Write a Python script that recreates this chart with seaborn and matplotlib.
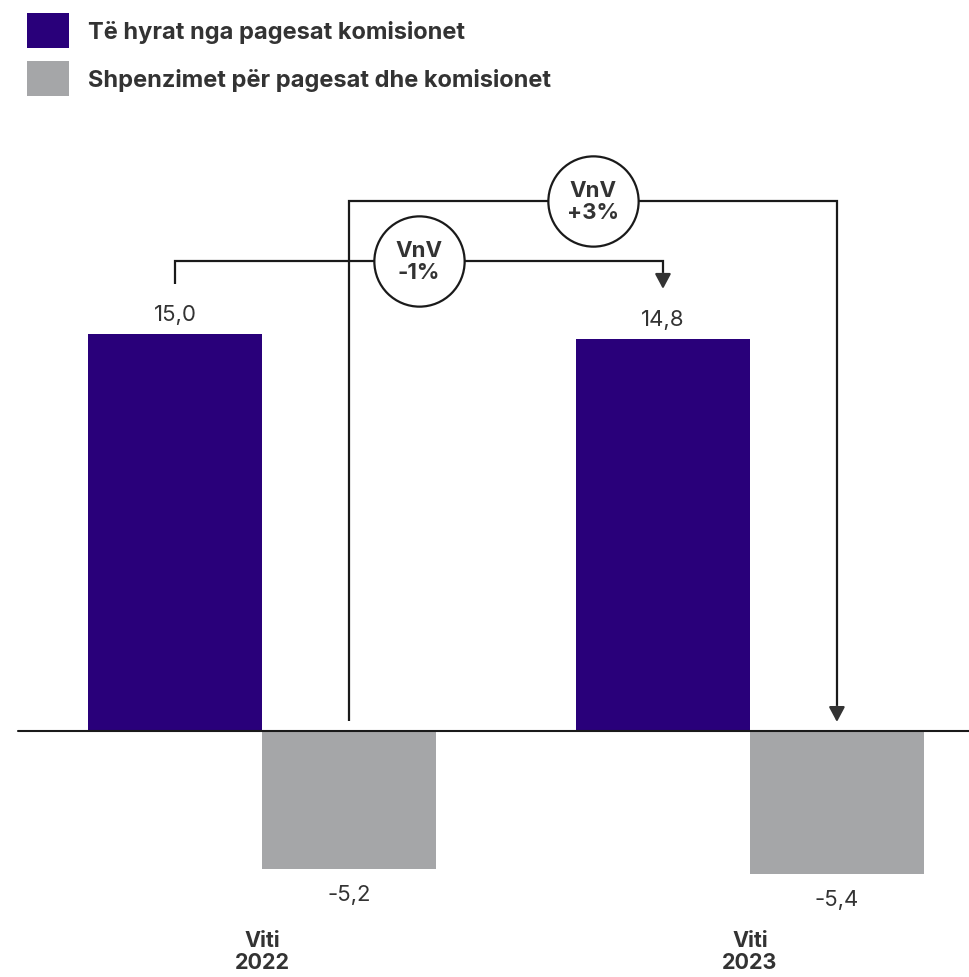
import matplotlib
matplotlib.use("Agg")
import matplotlib.pyplot as plt
import seaborn as sns
import pandas as pd

# Data (billion lek)
years = ["Viti\n2022", "Viti\n2023"]
series = ["Të hyrat nga pagesat komisionet", "Shpenzimet për pagesat dhe komisionet"]
income = [15.0, 14.8]
expenses = [-5.2, -5.4]
yoy_labels = ["VnV\n-1%", "VnV\n+3%"]

PURPLE = "#29007a"
GRAY = "#a5a6a8"
TEXT = "#333333"
LINE = "#1a1a1a"

sns.set_theme(style="white")
plt.rcParams["font.family"] = ["Inter", "DejaVu Sans"]

df = pd.DataFrame({
    "viti": years * 2,
    "seria": [series[0]] * 2 + [series[1]] * 2,
    "vlera": income + expenses,
})

fig = plt.figure(figsize=(9.70, 9.78), dpi=100)
ax = fig.add_axes([0, 0, 1, 1])

group_width = 0.713
sns.barplot(data=df, x="viti", y="vlera", hue="seria", hue_order=series,
            palette=[PURPLE, GRAY], width=group_width, saturation=1,
            linewidth=0, ax=ax)

ax.set_xlim(-0.537, 1.451)
ax.set_ylim(-9.294, 27.65)
ax.axis("off")

# zero line
ax.axhline(0, xmin=18 / 970, xmax=1, color=LINE, lw=1.5, zorder=3)

off = group_width / 4
inc_x = [i - off for i in range(len(years))]
exp_x = [i + off for i in range(len(years))]

# value labels
for x, v in zip(inc_x, income):
    ax.annotate(f"{v:.1f}".replace(".", ","), (x, v), xytext=(0, 14.5),
                textcoords="offset points", ha="center", va="center",
                fontsize=16, color=TEXT)
for x, v in zip(exp_x, expenses):
    ax.annotate(f"{v:.1f}".replace(".", ","), (x, v), xytext=(0, -18),
                textcoords="offset points", ha="center", va="center",
                fontsize=16, color=TEXT)

# category labels under the chart
for i, lab in enumerate(years):
    ax.text(i, 0.0266, lab, transform=ax.get_xaxis_transform(), ha="center",
            va="center", fontsize=15.5, fontweight="bold", color=TEXT,
            linespacing=1.12)


def bracket(x0, y0, x1, y1, ytop, label):
    ax.plot([x0, x0, x1, x1], [y0, ytop, ytop, y1 + 0.4], color=LINE,
            lw=1.6, solid_capstyle="butt", solid_joinstyle="miter", zorder=4)
    ax.annotate("", xy=(x1, y1), xytext=(x1, y1 + 0.6),
                arrowprops=dict(arrowstyle="-|>,head_length=0.6,head_width=0.32",
                                color="#333333", lw=1.6, shrinkA=0, shrinkB=0,
                                mutation_scale=15), zorder=4)
    xm = (x0 + x1) / 2
    ax.plot([xm], [ytop], "o", ms=65, mfc="white", mec=LINE, mew=1.6, zorder=5)
    ax.text(xm, ytop, label, ha="center", va="center", fontsize=16,
            fontweight="bold", color=TEXT, linespacing=1.15, zorder=6)


# income change 2022 -> 2023
bracket(inc_x[0], income[0] + 1.89, inc_x[1], income[1] + 1.9, 17.76, yoy_labels[0])
# expense change 2022 -> 2023
bracket(exp_x[0], 0.38, exp_x[1], 0.34, 20.02, yoy_labels[1])

# legend
handles, labels = ax.get_legend_handles_labels()
if ax.get_legend() is not None:
    ax.get_legend().remove()
fig.legend(handles, labels, loc="upper left",
           bbox_to_anchor=(27 / 970, 1 - 14 / 978), frameon=False,
           handlelength=1.78, handleheight=1.905,
           handletextpad=0.8, labelspacing=0.55, borderpad=0,
           borderaxespad=0, prop={"weight": "bold", "size": 17})
for t in fig.legends[0].get_texts():
    t.set_color(TEXT)

fig.savefig("out.png", dpi=100, facecolor="white")
